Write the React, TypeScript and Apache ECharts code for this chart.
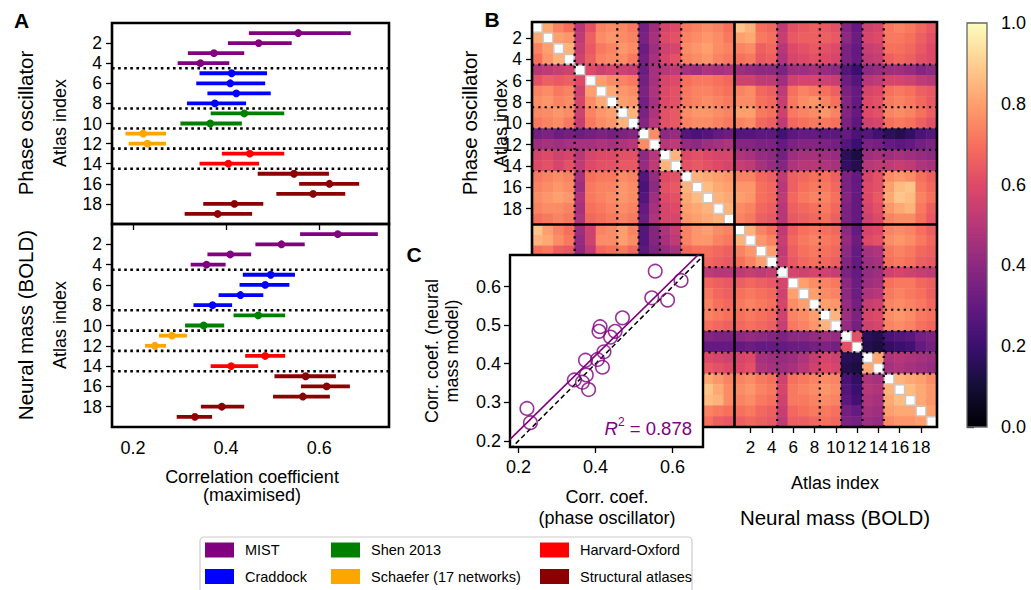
import { useEffect, useRef } from "react";
import * as echarts from "echarts";

const FONT = '"Liberation Sans", Arial, sans-serif';

// ---------- Panel A data ----------
const atlasIndex = [1, 2, 3, 4, 5, 6, 7, 8, 9, 10, 11, 12, 13, 14, 15, 16, 17, 18, 19];
const atlasGroups = [0, 0, 0, 0, 1, 1, 1, 1, 2, 2, 3, 3, 4, 4, 5, 5, 5, 5, 5];
const groupNames = ["MIST", "Craddock", "Shen 2013", "Schaefer (17 networks)", "Harvard-Oxford", "Structural atlases"];
const groupColors = ["#800080", "#0000ff", "#008000", "#ffa500", "#ff0000", "#8b0000"];
const groupBoundaries = [4, 8, 10, 12, 14];
const atlasTicks = [2, 4, 6, 8, 10, 12, 14, 16, 18];
const corrTicks = [0.2, 0.4, 0.6];
const scatterYTicks = [0.2, 0.3, 0.4, 0.5, 0.6];

const phaseMean = [0.555, 0.470, 0.374, 0.345, 0.412, 0.409, 0.422, 0.376, 0.439, 0.366, 0.222, 0.231, 0.451, 0.405, 0.546, 0.622, 0.587, 0.418, 0.382];
const phaseLo = [0.449, 0.404, 0.318, 0.296, 0.343, 0.336, 0.360, 0.316, 0.367, 0.302, 0.184, 0.191, 0.391, 0.343, 0.468, 0.557, 0.508, 0.351, 0.311];
const phaseHi = [0.668, 0.541, 0.439, 0.407, 0.488, 0.484, 0.496, 0.443, 0.525, 0.434, 0.271, 0.271, 0.525, 0.471, 0.621, 0.686, 0.656, 0.480, 0.456];
const boldMean = [0.640, 0.519, 0.409, 0.358, 0.496, 0.484, 0.431, 0.371, 0.469, 0.352, 0.284, 0.247, 0.484, 0.411, 0.571, 0.616, 0.565, 0.391, 0.333];
const boldLo = [0.559, 0.463, 0.360, 0.324, 0.436, 0.429, 0.384, 0.330, 0.416, 0.312, 0.256, 0.226, 0.441, 0.367, 0.504, 0.561, 0.501, 0.346, 0.294];
const boldHi = [0.726, 0.569, 0.454, 0.399, 0.548, 0.536, 0.480, 0.413, 0.527, 0.396, 0.316, 0.271, 0.527, 0.469, 0.636, 0.666, 0.623, 0.439, 0.370];

// ---------- Panel B data (values in hundredths) ----------
// phase-phase, upper triangle: row i holds columns i+1..18
const phasePhaseUpper = [
  "82 74 70 50 62 74 76 75 72 34 44 58 60 72 74 76 74 70",
  "80 78 52 66 76 78 76 74 36 46 60 62 74 76 78 76 72",
  "84 54 64 72 74 78 76 32 44 56 58 76 78 80 76 74",
  "56 66 74 76 76 72 34 46 58 62 74 76 78 74 72",
  "60 56 58 56 54 32 46 50 52 46 44 48 46 48",
  "80 76 74 72 34 46 58 60 70 72 72 70 68",
  "82 78 76 36 48 60 62 72 74 74 72 70",
  "80 78 34 46 60 62 72 74 76 74 72",
  "84 36 48 62 64 76 78 78 76 74",
  "38 50 62 64 74 76 76 74 72",
  "76 40 42 26 24 26 30 32",
  "50 52 42 40 44 46 48",
  "84 60 62 60 58 58",
  "62 64 62 60 58",
  "84 82 80 78",
  "86 82 80",
  "84 82",
  "84",
];
// phase rows x BOLD columns (full 19 x 19)
const phaseBold = [
  "88 84 70 68 52 62 64 66 64 62 38 30 56 58 72 74 72 68 64",
  "80 82 72 70 54 64 66 66 66 64 40 32 58 60 72 72 70 66 62",
  "74 76 66 68 50 60 62 64 62 60 36 30 54 56 70 70 68 64 60",
  "70 72 64 66 48 58 60 62 60 58 36 30 52 54 66 68 66 62 60",
  "44 42 40 40 36 44 44 46 42 40 26 20 40 42 44 44 42 38 40",
  "56 56 52 52 44 56 58 58 56 54 32 26 50 52 58 58 56 52 50",
  "74 76 68 66 52 70 74 72 70 66 36 30 58 60 70 72 70 66 64",
  "76 76 70 68 54 72 76 78 74 70 38 30 60 62 72 74 72 68 64",
  "80 80 72 70 56 72 74 76 78 74 38 30 60 62 74 76 74 70 66",
  "74 76 68 66 52 68 70 72 72 70 36 28 56 58 70 72 70 66 62",
  "26 26 28 28 22 28 30 30 28 28 30 24 26 22 16 14 18 24 26",
  "38 38 36 36 30 36 38 38 36 34 26 20 36 34 30 28 30 34 36",
  "48 46 42 40 34 44 46 46 44 42 16 12 44 46 44 46 44 42 40",
  "54 52 46 42 38 48 50 50 48 46 18 14 50 52 52 54 52 48 46",
  "74 74 68 66 52 66 68 70 70 66 36 30 58 62 76 78 76 70 66",
  "78 78 70 68 50 66 70 72 72 68 36 30 60 62 80 86 88 72 68",
  "80 78 70 68 52 68 72 74 74 70 38 30 60 64 82 88 86 74 70",
  "76 74 68 66 50 66 68 70 72 68 36 30 58 62 78 82 84 72 66",
  "74 72 66 64 50 64 66 68 70 66 36 30 56 60 74 76 76 70 64",
];
// BOLD-BOLD, upper triangle
const boldBoldUpper = [
  "84 74 70 52 66 70 72 70 68 40 30 58 60 74 76 74 70 66",
  "78 74 54 68 72 74 72 70 42 32 60 62 76 78 76 72 68",
  "80 52 66 70 72 70 68 40 30 46 48 72 74 72 68 66",
  "54 64 68 70 68 66 38 30 44 46 70 72 70 66 64",
  "58 56 58 56 54 36 30 42 44 56 58 56 54 52",
  "80 76 74 72 40 32 44 46 70 72 72 68 66",
  "80 76 74 40 32 48 50 72 74 72 70 66",
  "80 78 42 34 54 56 74 76 74 72 68",
  "84 44 36 58 60 76 78 76 72 70",
  "42 34 56 58 74 76 74 70 68",
  "62 16 14 24 26 28 34 36",
  "14 12 18 20 22 30 34",
  "82 48 50 48 46 44",
  "46 48 46 44 42",
  "84 82 80 76",
  "86 82 78",
  "82 78",
  "80",
];
const colorbarTicks = [0, 0.2, 0.4, 0.6, 0.8, 1.0];
const magmaColors = ["#000004", "#140e36", "#3b0f70", "#641a80", "#8c2981", "#b73779", "#de4968", "#f7705c", "#fe9f6d", "#fecf92", "#fcfdbf"];
const r2Text = "0.878";

function parseRow(s: string): number[] {
  return s.trim().split(/\s+/).map((t) => Number(t) / 100);
}

function buildMatrix(): number[][] {
  const n = atlasIndex.length;
  const N = 2 * n;
  const M: number[][] = Array.from({ length: N }, () => new Array(N).fill(1));
  phasePhaseUpper.forEach((row, i) => {
    parseRow(row).forEach((v, k) => {
      const j = i + 1 + k;
      M[i][j] = v;
      M[j][i] = v;
    });
  });
  boldBoldUpper.forEach((row, i) => {
    parseRow(row).forEach((v, k) => {
      const j = i + 1 + k;
      M[n + i][n + j] = v;
      M[n + j][n + i] = v;
    });
  });
  phaseBold.forEach((row, i) => {
    parseRow(row).forEach((v, j) => {
      M[i][n + j] = v;
      M[n + j][i] = v;
    });
  });
  return M;
}

function buildOption() {
  const n = atlasIndex.length;
  const N = 2 * n;
  const M = buildMatrix();
  const heatCats = [...atlasIndex.map((k) => "P" + k), ...atlasIndex.map((k) => "B" + k)];
  const heatData: number[][] = [];
  for (let i = 0; i < N; i++) for (let j = 0; j < N; j++) if (i !== j) heatData.push([j, i, M[i][j]]);
  const diagData = heatCats.map((_, i) => [i, i]);

  const bLines: { b: number; solid: boolean }[] = [];
  groupBoundaries.forEach((b) => bLines.push({ b, solid: false }));
  groupBoundaries.forEach((b) => bLines.push({ b: b + n, solid: false }));
  bLines.push({ b: n, solid: true });

  // least-squares fit for panel C
  const mx = phaseMean.reduce((a, b) => a + b, 0) / n;
  const my = boldMean.reduce((a, b) => a + b, 0) / n;
  let sxy = 0, sxx = 0;
  for (let i = 0; i < n; i++) {
    sxy += (phaseMean[i] - mx) * (boldMean[i] - my);
    sxx += (phaseMean[i] - mx) ** 2;
  }
  const slope = sxy / sxx;
  const icpt = my - slope * mx;
  const cxMin = 0.178, cxMax = 0.679, cyMin = 0.184, cyMax = 0.682;

  const errData = (lo: number[], hi: number[], mean: number[]) =>
    atlasIndex.map((k, i) => [lo[i], hi[i], mean[i], k, atlasGroups[i]]);
  const sepData = groupBoundaries.map((b) => [0.3, b + 0.5]);

  const renderErr = (params: any, api: any) => {
    const lo = api.coord([api.value(0), api.value(3)]);
    const hi = api.coord([api.value(1), api.value(3)]);
    const m = api.coord([api.value(2), api.value(3)]);
    const color = groupColors[api.value(4)];
    return {
      type: "group",
      children: [
        { type: "line", shape: { x1: lo[0], y1: lo[1], x2: hi[0], y2: hi[1] }, style: { stroke: color, lineWidth: 3.8 } },
        { type: "circle", shape: { cx: m[0], cy: m[1], r: 3.9 }, style: { fill: color } },
      ],
    };
  };
  const renderSep = (params: any, api: any) => {
    const cs = params.coordSys;
    const y = api.coord([api.value(0), api.value(1)])[1];
    return {
      type: "line",
      shape: { x1: cs.x, y1: y, x2: cs.x + cs.width, y2: y },
      style: { stroke: "#000", lineWidth: 2.6, lineDash: [2.6, 3.5] },
    };
  };
  const renderBLines = (params: any) => {
    const cs = params.coordSys;
    const d = bLines[params.dataIndex];
    const px = cs.x + (cs.width * d.b) / N;
    const py = cs.y + (cs.height * d.b) / N;
    const style = d.solid
      ? { stroke: "#000", lineWidth: 2.6 }
      : { stroke: "#000", lineWidth: 2.2, lineDash: [2.2, 4.1] };
    const children: any[] = [
      { type: "line", shape: { x1: px, y1: cs.y, x2: px, y2: cs.y + cs.height }, style },
      { type: "line", shape: { x1: cs.x, y1: py, x2: cs.x + cs.width, y2: py }, style },
    ];
    if (params.dataIndex === bLines.length - 1) {
      children.push({
        type: "rect",
        shape: { x: cs.x, y: cs.y, width: cs.width, height: cs.height },
        style: { fill: "none", stroke: "#000", lineWidth: 2.6 },
      });
    }
    return { type: "group", children };
  };
  const renderDiag = (params: any, api: any) => {
    const p = api.coord([api.value(0), api.value(1)]);
    const s = api.size([1, 1]);
    return {
      type: "rect",
      shape: { x: p[0] - s[0] / 2 + 0.6, y: p[1] - s[1] / 2 + 0.6, width: s[0] - 1.2, height: s[1] - 1.2 },
      style: { fill: "#ffffff", stroke: "#c6c6c6", lineWidth: 1.2 },
    };
  };
  const renderColorbar = (params: any) => {
    const cs = params.coordSys;
    const stops = magmaColors.map((c, i) => ({ offset: i / (magmaColors.length - 1), color: c }));
    return {
      type: "rect",
      shape: { x: cs.x, y: cs.y, width: cs.width, height: cs.height },
      style: { fill: new echarts.graphic.LinearGradient(0, 1, 0, 0, stops), stroke: "#666", lineWidth: 1.3 },
    };
  };

  const tickStyle = { color: "#000", width: 1.3 };
  const lbl = (size: number) => ({ fontSize: size, color: "#000", fontFamily: FONT });

  const aY = (gi: number) => ({
    type: "value", gridIndex: gi, min: 0, max: 20, inverse: true,
    splitLine: { show: false }, axisLine: { show: false },
    axisTick: { show: true, length: 6, lineStyle: tickStyle, customValues: atlasTicks },
    axisLabel: { ...lbl(17.5), show: true, margin: 10, customValues: atlasTicks },
  });

  const rotText = (text: string, x: number, y: number, size: number) => ({
    type: "text", x, y, rotation: Math.PI / 2,
    style: { text, fontSize: size, fontFamily: FONT, fill: "#000", textAlign: "center", textVerticalAlign: "middle" },
  });
  const hText = (text: string, x: number, y: number, size: number, extra: any = {}) => ({
    type: "text", x, y,
    style: { text, fontSize: size, fontFamily: FONT, fill: "#000", textAlign: "center", textVerticalAlign: "middle", ...extra },
  });

  const legendCols = [205, 331, 540];
  const legendRows = [550, 576.5];
  const legendEls: any[] = [];
  groupNames.forEach((name, k) => {
    const cx = legendCols[Math.floor(k / 2)];
    const cy = legendRows[k % 2];
    legendEls.push({ type: "rect", shape: { x: cx, y: cy - 7.5, width: 29, height: 15 }, style: { fill: groupColors[k] } });
    legendEls.push(hText(name, cx + 40, cy, 14.5, { textAlign: "left" }));
  });

  return {
    animation: false,
    backgroundColor: "#fff",
    textStyle: { fontFamily: FONT, color: "#000" },
    grid: [
      { left: 112, top: 23, width: 277, height: 201, show: true, borderColor: "#000", borderWidth: 2.6, backgroundColor: "transparent" },
      { left: 112, top: 224, width: 277, height: 203, show: true, borderColor: "#000", borderWidth: 2.6, backgroundColor: "transparent" },
      { left: 532, top: 22, width: 405, height: 405 },
      { left: 510, top: 255, width: 193, height: 192 },
      { left: 967, top: 23, width: 20, height: 404 },
    ],
    xAxis: [
      { type: "value", gridIndex: 0, min: 0.155, max: 0.75, show: false, splitLine: { show: false } },
      {
        type: "value", gridIndex: 1, min: 0.155, max: 0.75, splitLine: { show: false }, axisLine: { show: false },
        axisTick: { show: true, length: 6, lineStyle: tickStyle, customValues: corrTicks },
        axisLabel: { ...lbl(18), margin: 12, customValues: corrTicks, formatter: (v: number) => v.toFixed(1) },
      },
      {
        type: "category", gridIndex: 2, data: heatCats, axisLine: { show: false }, splitLine: { show: false },
        axisTick: { show: true, alignWithLabel: true, length: 6, lineStyle: tickStyle, interval: (i: number) => i >= n && (i - n) % 2 === 1 },
        axisLabel: { ...lbl(17), margin: 12, interval: (i: number) => i >= n && (i - n) % 2 === 1, formatter: (v: string) => v.slice(1) },
      },
      {
        type: "value", gridIndex: 3, min: cxMin, max: cxMax, splitLine: { show: false }, axisLine: { show: false }, z: 10,
        axisTick: { show: true, length: 6, lineStyle: tickStyle, customValues: corrTicks },
        axisLabel: { ...lbl(18), margin: 11, customValues: corrTicks, formatter: (v: number) => v.toFixed(1) },
      },
      { type: "value", gridIndex: 4, min: 0, max: 1, show: false },
    ],
    yAxis: [
      aY(0),
      aY(1),
      {
        type: "category", gridIndex: 2, data: heatCats, inverse: true, axisLine: { show: false }, splitLine: { show: false },
        axisTick: { show: true, alignWithLabel: true, length: 6, lineStyle: tickStyle, interval: (i: number) => i < n && i % 2 === 1 },
        axisLabel: { ...lbl(17.5), margin: 10, interval: (i: number) => i < n && i % 2 === 1, formatter: (v: string) => v.slice(1) },
      },
      {
        type: "value", gridIndex: 3, min: cyMin, max: cyMax, splitLine: { show: false }, axisLine: { show: false }, z: 10,
        axisTick: { show: true, length: 6, lineStyle: tickStyle, customValues: scatterYTicks },
        axisLabel: { ...lbl(18), margin: 9, customValues: scatterYTicks, formatter: (v: number) => v.toFixed(1) },
      },
      {
        type: "value", gridIndex: 4, min: 0, max: 1, interval: 0.2, position: "right", splitLine: { show: false }, axisLine: { show: false },
        axisTick: { show: true, length: 7, lineStyle: tickStyle, customValues: colorbarTicks },
        axisLabel: { ...lbl(18), margin: 14, customValues: colorbarTicks, formatter: (v: number) => v.toFixed(1) },
      },
    ],
    visualMap: {
      type: "continuous", min: 0, max: 1, show: false, seriesIndex: 4, dimension: 2,
      inRange: { color: magmaColors },
    },
    series: [
      { type: "custom", xAxisIndex: 0, yAxisIndex: 0, renderItem: renderErr, data: errData(phaseLo, phaseHi, phaseMean), encode: { x: [0, 1, 2], y: 3 }, z: 3 },
      { type: "custom", xAxisIndex: 0, yAxisIndex: 0, renderItem: renderSep, data: sepData, encode: { x: 0, y: 1 }, z: 2 },
      { type: "custom", xAxisIndex: 1, yAxisIndex: 1, renderItem: renderErr, data: errData(boldLo, boldHi, boldMean), encode: { x: [0, 1, 2], y: 3 }, z: 3 },
      { type: "custom", xAxisIndex: 1, yAxisIndex: 1, renderItem: renderSep, data: sepData, encode: { x: 0, y: 1 }, z: 2 },
      { type: "heatmap", xAxisIndex: 2, yAxisIndex: 2, data: heatData, progressive: 0, z: 1, itemStyle: { borderWidth: 0 } },
      { type: "custom", xAxisIndex: 2, yAxisIndex: 2, renderItem: renderDiag, data: diagData, encode: { x: 0, y: 1 }, z: 1 },
      { type: "custom", xAxisIndex: 2, yAxisIndex: 2, renderItem: renderBLines, data: bLines.map(() => [0, 0]), encode: { x: 0, y: 1 }, z: 2 },
      {
        type: "scatter", xAxisIndex: 3, yAxisIndex: 3, z: 10,
        data: phaseMean.map((x, i) => [x, boldMean[i]]),
        symbol: "circle", symbolSize: 13.5,
        itemStyle: { color: "rgba(0,0,0,0)", borderColor: "#800080", borderWidth: 1.6 },
      },
      {
        type: "line", xAxisIndex: 3, yAxisIndex: 3, z: 9, symbol: "none", clip: true,
        data: [[cxMin, icpt + slope * cxMin], [cxMax, icpt + slope * cxMax]],
        lineStyle: { color: "#800080", width: 1.6 },
      },
      {
        type: "line", xAxisIndex: 3, yAxisIndex: 3, z: 9, symbol: "none", clip: true,
        data: [[cxMin, cxMin], [cxMax, cxMax]],
        lineStyle: { color: "#000", width: 1.5, type: [5, 3] },
      },
      { type: "custom", xAxisIndex: 4, yAxisIndex: 4, renderItem: renderColorbar, data: [[0.5, 0.5]], encode: { x: 0, y: 1 }, z: 3 },
    ],
    graphic: [
      { type: "rect", z: 5, shape: { x: 510, y: 255, width: 193, height: 192 }, style: { fill: "#fff", stroke: "#000", lineWidth: 2.4 } },
      {
        type: "text", z: 11, x: 692, y: 428,
        style: {
          text: "{i|R}{s|2}{n| = " + r2Text + "}", textAlign: "right", textVerticalAlign: "middle", fill: "#800080",
          rich: {
            i: { fontStyle: "italic", fontSize: 18.5, fontFamily: FONT, color: "#800080", lineHeight: 24 },
            s: { fontSize: 12, fontFamily: FONT, color: "#800080", verticalAlign: "top", lineHeight: 13 },
            n: { fontSize: 18.5, fontFamily: FONT, color: "#800080", lineHeight: 24 },
          },
        },
      },
      hText("A", 21.5, 20.5, 21, { fontWeight: "bold" }),
      hText("B", 492, 19, 21, { fontWeight: "bold" }),
      hText("C", 414, 254, 21, { fontWeight: "bold" }),
      rotText("Phase oscillator", 25, 123, 20.5),
      rotText("Neural mass (BOLD)", 25, 325, 20.5),
      rotText("Atlas index", 60, 123, 18),
      rotText("Atlas index", 60, 325, 18),
      hText("Correlation coefficient", 252, 477, 18),
      hText("(maximised)", 252, 495, 18),
      rotText("Phase oscillator", 469, 123, 20.5),
      rotText("Atlas index", 501, 123, 18),
      hText("Atlas index", 835, 483, 18),
      hText("Neural mass (BOLD)", 835, 517, 20.5),
      hText("Corr. coef.", 607, 497, 18),
      hText("(phase oscillator)", 607, 518, 18),
      rotText("Corr. coef. (neural", 432, 351, 18),
      rotText("mass model)", 452, 351, 18),
      { type: "rect", shape: { x: 200, y: 537, width: 492, height: 62, r: 4 }, style: { fill: "#fff", stroke: "#cccccc", lineWidth: 1.2 } },
      ...legendEls,
    ],
  };
}

export default function App() {
  const ref = useRef<HTMLDivElement>(null);
  useEffect(() => {
    if (!ref.current) return;
    const chart = echarts.init(ref.current, null, { renderer: "svg" });
    chart.setOption(buildOption() as any);
    return () => chart.dispose();
  }, []);
  return <div ref={ref} style={{ position: "fixed", left: 0, top: 0, width: 1031, height: 590, background: "#fff" }} />;
}
